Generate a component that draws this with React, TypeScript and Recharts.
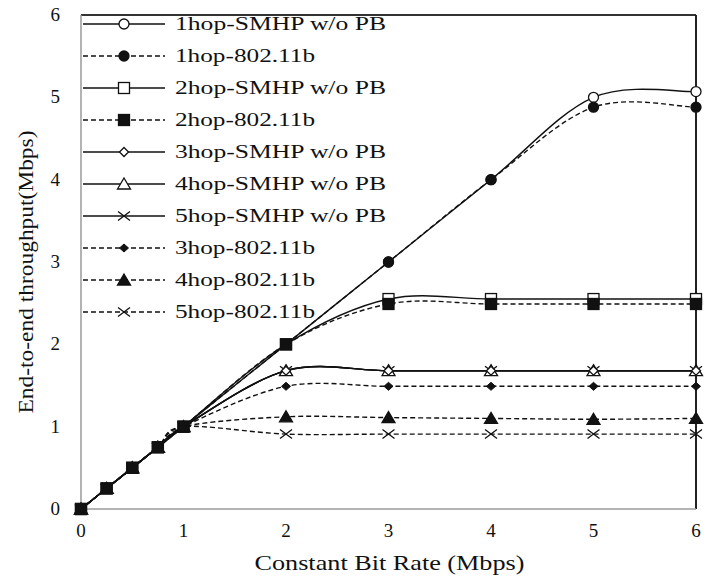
import React from 'react';
import { LineChart, Line, XAxis, YAxis, ReferenceLine, Legend } from 'recharts';

const rates = [0, 0.25, 0.5, 0.75, 1, 2, 3, 4, 5, 6];
const hop1Smhp = [0, 0.25, 0.5, 0.75, 1, 2, 3, 4, 5.0, 5.07];
const hop1Dcf = [0, 0.25, 0.5, 0.75, 1, 2, 3, 4, 4.88, 4.88];
const hop2Smhp = [0, 0.25, 0.5, 0.75, 1, 2, 2.55, 2.55, 2.55, 2.55];
const hop2Dcf = [0, 0.25, 0.5, 0.75, 1, 2, 2.49, 2.49, 2.49, 2.49];
const hop3Smhp = [0, 0.25, 0.5, 0.75, 1, 1.68, 1.68, 1.68, 1.68, 1.68];
const hop4Smhp = [0, 0.25, 0.5, 0.75, 1, 1.68, 1.68, 1.68, 1.68, 1.68];
const hop5Smhp = [0, 0.25, 0.5, 0.75, 1, 1.68, 1.68, 1.68, 1.68, 1.68];
const hop3Dcf = [0, 0.25, 0.5, 0.75, 1, 1.49, 1.49, 1.49, 1.49, 1.49];
const hop4Dcf = [0, 0.25, 0.5, 0.75, 1, 1.12, 1.11, 1.1, 1.09, 1.1];
const hop5Dcf = [0, 0.25, 0.5, 0.75, 1, 0.91, 0.91, 0.91, 0.91, 0.91];

const xTicks = [0, 1, 2, 3, 4, 5, 6];
const yTicks = [0, 1, 2, 3, 4, 5, 6];
const xTitle = 'Constant Bit Rate (Mbps)';
const yTitle = 'End-to-end throughput(Mbps)';

const seriesNames = [
  '1hop-SMHP w/o PB',
  '1hop-802.11b',
  '2hop-SMHP w/o PB',
  '2hop-802.11b',
  '3hop-SMHP w/o PB',
  '4hop-SMHP w/o PB',
  '5hop-SMHP w/o PB',
  '3hop-802.11b',
  '4hop-802.11b',
  '5hop-802.11b',
];
const seriesValues = [hop1Smhp, hop1Dcf, hop2Smhp, hop2Dcf, hop3Smhp, hop4Smhp, hop5Smhp, hop3Dcf, hop4Dcf, hop5Dcf];
const seriesMarkers = [
  'circleOpen', 'circleFilled', 'squareOpen', 'squareFilled', 'diamondOpen',
  'triangleOpen', 'cross', 'diamondFilled', 'triangleFilled', 'cross',
];
const seriesDashed = [false, true, false, true, false, false, false, true, true, true];
// drawing order (later = on top)
const drawOrder = [9, 8, 7, 6, 5, 4, 0, 1, 2, 3];

const series = seriesNames.map((name, i) => ({
  key: 's' + i,
  name,
  marker: seriesMarkers[i],
  dashed: seriesDashed[i],
}));

const data = rates.map((x, r) => {
  const row: any = { x };
  seriesValues.forEach((vals, i) => {
    row['s' + i] = vals[r];
  });
  return row;
});

const FONT = 'Liberation Serif';
const INK = '#111';

function smoothCurve(context: any) {
  let pts: number[][] = [];
  return {
    areaStart() {},
    areaEnd() {},
    lineStart() {
      pts = [];
    },
    point(x: number, y: number) {
      pts.push([+x, +y]);
    },
    lineEnd() {
      const n = pts.length;
      if (!n) return;
      context.moveTo(pts[0][0], pts[0][1]);
      for (let i = 0; i < n - 1; i++) {
        const p0 = pts[Math.max(0, i - 1)];
        const p1 = pts[i];
        const p2 = pts[i + 1];
        const p3 = pts[Math.min(n - 1, i + 2)];
        const c1x = p1[0] + (p2[0] - p0[0]) / 6;
        const c1y = p1[1] + (p2[1] - p0[1]) / 6;
        const c2x = p2[0] - (p3[0] - p1[0]) / 6;
        const c2y = p2[1] - (p3[1] - p1[1]) / 6;
        context.bezierCurveTo(c1x, c1y, c2x, c2y, p2[0], p2[1]);
      }
    },
  };
}

function Marker({ kind, cx, cy }: { kind: string; cx: number; cy: number }) {
  const sw = 1.3;
  switch (kind) {
    case 'circleOpen':
      return <circle cx={cx} cy={cy} r={5} fill="#fff" stroke={INK} strokeWidth={sw} />;
    case 'circleFilled':
      return <circle cx={cx} cy={cy} r={5} fill={INK} stroke={INK} strokeWidth={sw} />;
    case 'squareOpen':
      return <rect x={cx - 5.5} y={cy - 5.5} width={11} height={11} fill="#fff" stroke={INK} strokeWidth={sw} />;
    case 'squareFilled':
      return <rect x={cx - 5.5} y={cy - 5.5} width={11} height={11} fill={INK} stroke={INK} strokeWidth={sw} />;
    case 'diamondOpen':
      return (
        <polygon
          points={`${cx},${cy - 4.5} ${cx + 4.5},${cy} ${cx},${cy + 4.5} ${cx - 4.5},${cy}`}
          fill="#fff"
          stroke={INK}
          strokeWidth={sw}
        />
      );
    case 'diamondFilled':
      return (
        <polygon
          points={`${cx},${cy - 4} ${cx + 4.5},${cy} ${cx},${cy + 4} ${cx - 4.5},${cy}`}
          fill={INK}
          stroke={INK}
          strokeWidth={1}
        />
      );
    case 'triangleOpen':
      return (
        <polygon
          points={`${cx},${cy - 6} ${cx + 6.5},${cy + 5} ${cx - 6.5},${cy + 5}`}
          fill="#fff"
          stroke={INK}
          strokeWidth={sw}
        />
      );
    case 'triangleFilled':
      return (
        <polygon
          points={`${cx},${cy - 6} ${cx + 6.5},${cy + 5} ${cx - 6.5},${cy + 5}`}
          fill={INK}
          stroke={INK}
          strokeWidth={sw}
        />
      );
    case 'cross':
    default:
      return (
        <path
          d={`M${cx - 6},${cy - 4.5}L${cx + 6},${cy + 4.5}M${cx + 6},${cy - 4.5}L${cx - 6},${cy + 4.5}`}
          stroke={INK}
          strokeWidth={sw}
          fill="none"
        />
      );
  }
}

const makeDot = (kind: string, key: string) => (props: any) => {
  const { cx, cy, index } = props;
  if (cx == null || cy == null) return <g key={`${key}-d-${index}`} />;
  return (
    <g key={`${key}-d-${index}`}>
      <Marker kind={kind} cx={cx} cy={cy} />
    </g>
  );
};

const XTick = (props: any) => {
  const { x, y, payload } = props;
  return (
    <text x={x} y={y} textAnchor="middle" fontFamily={FONT} fontSize={19} fill={INK}>
      {payload.value}
    </text>
  );
};

const YTick = (props: any) => {
  const { x, y, payload } = props;
  return (
    <text x={x} y={y + 6} textAnchor="end" fontFamily={FONT} fontSize={19} fill={INK}>
      {payload.value}
    </text>
  );
};

const XTitle = (props: any) => {
  const vb = props.viewBox || { x: 81, y: 509, width: 615, height: 68 };
  const cx = vb.x + vb.width / 2 + 1;
  return (
    <text
      x={cx}
      y={570}
      textAnchor="middle"
      fontFamily={FONT}
      fontSize={22}
      fill={INK}
      textLength={270}
      lengthAdjust="spacingAndGlyphs"
    >
      {xTitle}
    </text>
  );
};

const YTitle = () => {
  const cx = 33;
  const cy = 272;
  return (
    <text
      x={cx}
      y={cy}
      textAnchor="middle"
      fontFamily={FONT}
      fontSize={22}
      fill={INK}
      textLength={283}
      lengthAdjust="spacingAndGlyphs"
      transform={`rotate(-90, ${cx}, ${cy})`}
    >
      {yTitle}
    </text>
  );
};

const legendWidths = [211, 140, 211, 140, 211, 211, 211, 140, 140, 140];

const LegendContent = () => (
  <svg width={340} height={330} style={{ display: 'block', overflow: 'visible' }}>
    {series.map((s, i) => {
      const cy = 16 + 32 * i;
      return (
        <g key={s.key}>
          <line
            x1={2}
            x2={84}
            y1={cy}
            y2={cy}
            stroke={INK}
            strokeWidth={1.4}
            strokeDasharray={s.dashed ? '5 3' : undefined}
          />
          <Marker kind={s.marker} cx={43} cy={cy} />
          <text
            x={94}
            y={cy + 6}
            fontFamily={FONT}
            fontSize={18}
            fill={INK}
            textLength={legendWidths[i]}
            lengthAdjust="spacingAndGlyphs"
          >
            {s.name}
          </text>
        </g>
      );
    })}
  </svg>
);

export default function App() {
  const ordered = drawOrder.map((i) => series[i]);
  return (
    <div style={{ position: 'absolute', left: 0, top: 0, width: 706, height: 577, background: '#fff', fontFamily: FONT }}>
      <LineChart
        width={706}
        height={577}
        data={data}
        margin={{ top: 15, right: 10, bottom: 0, left: 0 }}
      >
        <XAxis
          dataKey="x"
          type="number"
          domain={[0, 6]}
          ticks={xTicks}
          interval={0}
          height={68}
          axisLine={{ stroke: '#9a9a9a', strokeWidth: 1.5 }}
          tickLine={false}
          tickSize={0}
          tickMargin={28}
          tick={<XTick />}
          label={<XTitle />}
        />
        <YAxis
          type="number"
          domain={[0, 6]}
          ticks={yTicks}
          interval={0}
          width={81}
          axisLine={{ stroke: '#9a9a9a', strokeWidth: 1.5 }}
          tickLine={false}
          tickSize={0}
          tickMargin={21}
          tick={<YTick />}
          label={<YTitle />}
        />
        <ReferenceLine y={6} stroke="#333" strokeWidth={1.8} ifOverflow="visible" />
        <ReferenceLine x={6} stroke="#222" strokeWidth={2} ifOverflow="visible" />
        <Legend
          layout="vertical"
          align="center"
          verticalAlign="middle"
          content={<LegendContent />}
          wrapperStyle={{ position: 'absolute', left: 81, top: 8, width: 340, height: 330, margin: 0 }}
        />
        {ordered.map((s) => (
          <Line
            key={s.key}
            dataKey={s.key}
            name={s.name}
            type={smoothCurve as any}
            stroke={INK}
            strokeWidth={1.4}
            strokeDasharray={s.dashed ? '5 3' : undefined}
            dot={makeDot(s.marker, s.key)}
            activeDot={false}
            isAnimationActive={false}
            legendType="none"
          />
        ))}
      </LineChart>
    </div>
  );
}
